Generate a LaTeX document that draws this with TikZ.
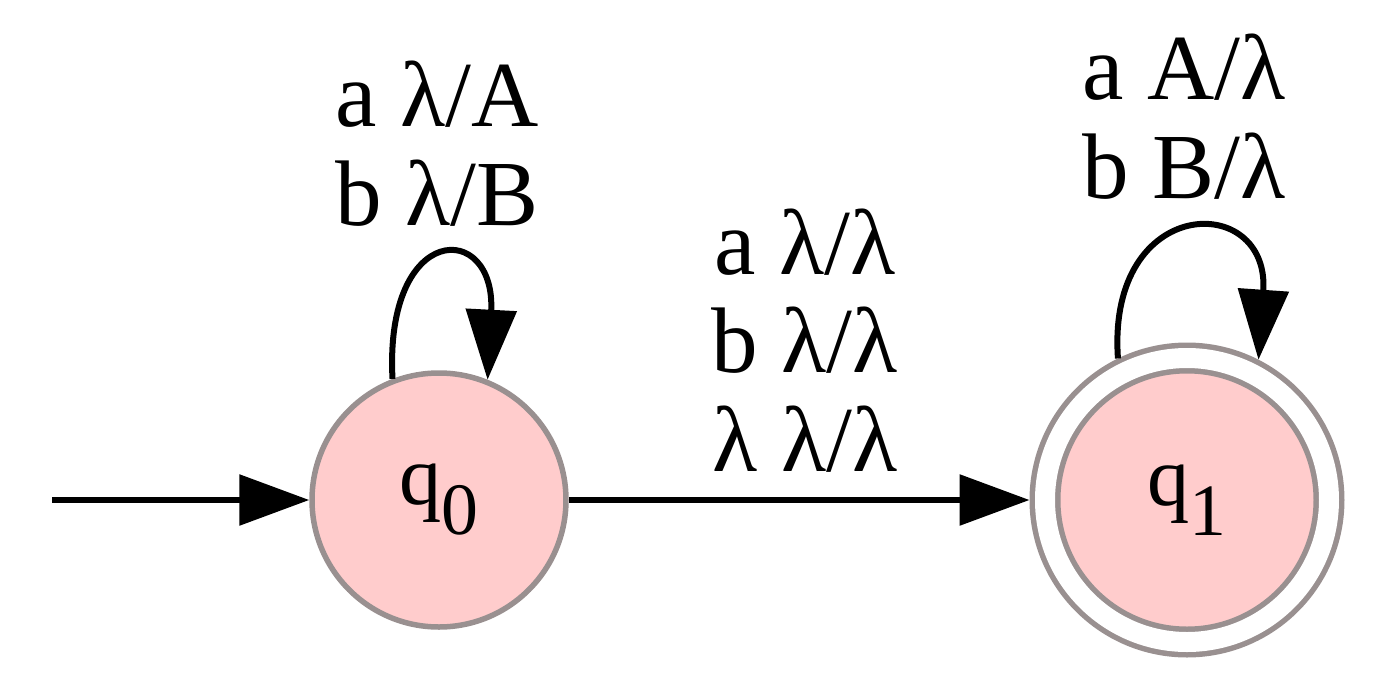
\documentclass[tikz,border=0pt]{standalone}
\usepackage{fontspec}
\setmainfont{Liberation Serif}
\usetikzlibrary{arrows.meta}
\definecolor{estadofondo}{RGB}{255,204,204}
\definecolor{estadoborde}{RGB}{153,144,144}
\newcommand{\estado}[1]{q\raisebox{-0.3cm}{\fontsize{21}{21}\selectfont #1}}

\begin{document}
\begin{tikzpicture}[
    estado/.style={circle, draw=estadoborde, fill=estadofondo, line width=0.055cm, minimum size=2.54cm, inner sep=0pt, font=\fontsize{24}{24}\selectfont},
    final/.style={estado, double=white, double distance=0.2cm, minimum size=2.84cm, outer sep=0.155cm},
    flecha/.style={-{Triangle[length=0.7cm, width=0.5cm]}, line width=0.06cm},
    etiqueta/.style={align=center, anchor=south, inner sep=0pt, font=\fontsize{26.5}{28}\selectfont}]

        \useasboundingbox (0, 0) rectangle (13.73, 6.80);

        % Estados
        \node[estado] (q0) at (4.39, 1.80) {\estado{0}};
        \node[final] (q1) at (11.87, 1.80) {\estado{1}};

        % Entrada
        \coordinate (inicio) at (0.52, 1.80);

        % Transiciones
        \draw[flecha] (inicio) -- (q0);
        \draw[flecha] (q0) -- (q1);
        \draw[flecha] (q0.111) .. controls +(93:1.58) and +(87:1.60) .. (q0.68);
        \draw[flecha] (q1.116) .. controls +(94:1.65) and +(86:1.69) .. (q1.63);

        % Etiquetas
        \node[etiqueta] (e00) at (4.37, 4.53) {a λ/A\\b λ/B};
        \node[etiqueta] (e01) at (8.05, 2.07) {a λ/λ\\b λ/λ\\λ λ/λ};
        \node[etiqueta] (e11) at (11.84, 4.80) {a A/λ\\b B/λ};

    \end{tikzpicture}
\end{document}
